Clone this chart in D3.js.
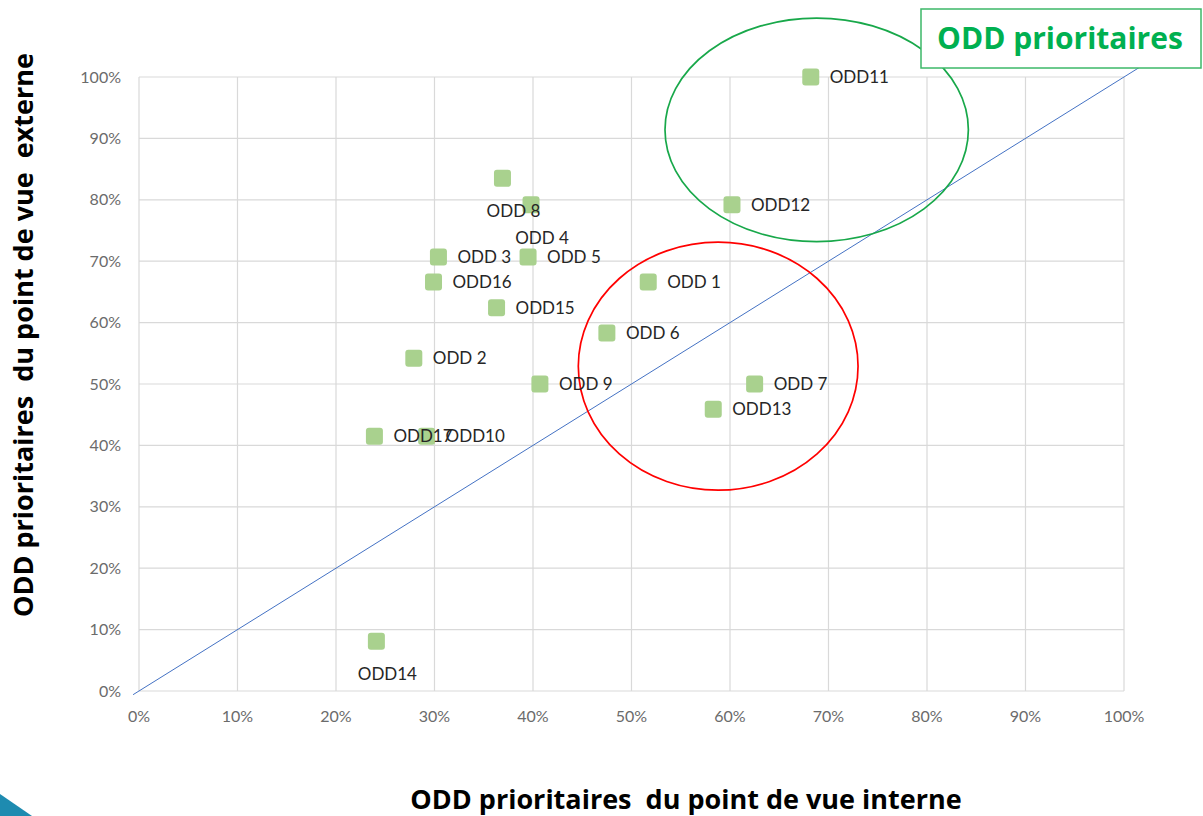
<!DOCTYPE html>
<html>
<head>
<meta charset="utf-8">
<script src="https://cdn.jsdelivr.net/npm/d3@7"></script>
<style>
  body { margin: 0; background: #fff; }
  text { white-space: pre; }
</style>
</head>
<body>
<div id="chart"></div>
<script>
// point data: internal (x) vs external (y) priority
const labels = ["ODD11", "ODD12", "ODD 8", "ODD 4", "ODD 3", "ODD 5", "ODD16", "ODD15", "ODD 2", "ODD 9",
                "ODD17", "ODD10", "ODD 1", "ODD 6", "ODD 7", "ODD13", "ODD14"];
const interne = [0.682, 0.602, 0.369, 0.398, 0.304, 0.395, 0.299, 0.363, 0.279, 0.407,
                 0.239, 0.292, 0.517, 0.475, 0.625, 0.583, 0.241];
const externe = [1.0, 0.792, 0.835, 0.792, 0.707, 0.707, 0.666, 0.624, 0.542, 0.5,
                 0.415, 0.415, 0.666, 0.583, 0.5, 0.459, 0.081];
const labelPos = ["right", "right", "below", "below", "right", "right", "right", "right", "right", "right",
                  "right", "right", "right", "right", "right", "right", "below"];
const ticks = [0, 0.1, 0.2, 0.3, 0.4, 0.5, 0.6, 0.7, 0.8, 0.9, 1.0];

// annotation ellipses in data units: [cx, cy, rx, ry]
const greenZone = [0.688, 0.914, 0.154, 0.182];
const redZone = [0.588, 0.529, 0.142, 0.202];

const width = 1203, height = 816;
const margin = { top: 77, left: 139, right: 79, bottom: 125 };

const x = d3.scaleLinear().domain([0, 1]).range([margin.left, width - margin.right]);
const y = d3.scaleLinear().domain([0, 1]).range([height - margin.bottom, margin.top]);

const svg = d3.select("#chart").append("svg")
  .attr("width", width).attr("height", height)
  .style("font-family", "Lato, 'Open Sans', sans-serif");

// gridlines
svg.append("g").selectAll("line.h").data(ticks).join("line")
  .attr("x1", x(0)).attr("x2", x(1))
  .attr("y1", d => y(d)).attr("y2", d => y(d))
  .attr("stroke", "#d9d9d9").attr("stroke-width", 1.2);
svg.append("g").selectAll("line.v").data(ticks).join("line")
  .attr("y1", y(0)).attr("y2", y(1))
  .attr("x1", d => x(d)).attr("x2", d => x(d))
  .attr("stroke", "#d9d9d9").attr("stroke-width", 1.2);

// tick labels
const fmt = d3.format(".0%");
svg.append("g").selectAll("text").data(ticks).join("text")
  .attr("x", margin.left - 18).attr("y", d => y(d) + 5.5)
  .attr("text-anchor", "end").attr("font-size", 16).attr("fill", "#6b6b6b")
  .text(fmt);
svg.append("g").selectAll("text").data(ticks).join("text")
  .attr("x", d => x(d)).attr("y", y(0) + 31)
  .attr("text-anchor", "middle").attr("font-size", 16).attr("fill", "#6b6b6b")
  .text(fmt);

// diagonal y = x
svg.append("line")
  .attr("x1", x(-0.006)).attr("y1", y(-0.006))
  .attr("x2", x(1.016)).attr("y2", y(1.016))
  .attr("stroke", "#4472c4").attr("stroke-width", 1);

// ellipses
function ellipse(z, color) {
  svg.append("ellipse")
    .attr("cx", x(z[0])).attr("cy", y(z[1]))
    .attr("rx", x(z[2]) - x(0)).attr("ry", y(0) - y(z[3]))
    .attr("fill", "none").attr("stroke", color).attr("stroke-width", 1.7);
}
ellipse(greenZone, "#18a84a");
ellipse(redZone, "#ff0000");

// points
const pts = labels.map((l, i) => ({ label: l, x: interne[i], y: externe[i], pos: labelPos[i] }));
const s = 17;
svg.append("g").selectAll("rect").data(pts).join("rect")
  .attr("x", d => x(d.x) - s / 2).attr("y", d => y(d.y) - s / 2)
  .attr("width", s).attr("height", s).attr("rx", 3)
  .attr("fill", "#a9d18e");

svg.append("g").selectAll("text").data(pts).join("text")
  .attr("x", d => d.pos === "right" ? x(d.x) + 19 : x(d.x) + 11)
  .attr("y", d => d.pos === "right" ? y(d.y) + 6 : y(d.y) + 39)
  .attr("text-anchor", d => d.pos === "right" ? "start" : "middle")
  .attr("font-size", 17).attr("fill", "#262626")
  .text(d => d.label);

// axis titles
svg.append("text")
  .attr("transform", "translate(33,335) rotate(-90)")
  .attr("text-anchor", "middle")
  .style("font-family", "'Open Sans', sans-serif")
  .attr("font-weight", "bold").attr("font-size", 27).attr("fill", "#000")
  .text("ODD prioritaires  du point de vue  externe");
svg.append("text")
  .attr("x", 686).attr("y", 809)
  .attr("text-anchor", "middle")
  .style("font-family", "'Open Sans', sans-serif")
  .attr("font-weight", "bold").attr("font-size", 27).attr("fill", "#000")
  .text("ODD prioritaires  du point de vue interne");

// legend box
svg.append("rect")
  .attr("x", 921).attr("y", 9).attr("width", 280).attr("height", 59)
  .attr("fill", "#fff").attr("stroke", "#3cb868").attr("stroke-width", 1.5);
svg.append("text")
  .attr("x", 1060).attr("y", 49)
  .attr("text-anchor", "middle")
  .style("font-family", "'Open Sans', sans-serif")
  .attr("font-weight", "bold").attr("font-size", 30).attr("fill", "#00b050")
  .text("ODD prioritaires");

// decorative corner arrow
svg.append("polygon")
  .attr("points", "0,794 32,816 0,816")
  .attr("fill", "#1e8bb0");
</script>
</body>
</html>
